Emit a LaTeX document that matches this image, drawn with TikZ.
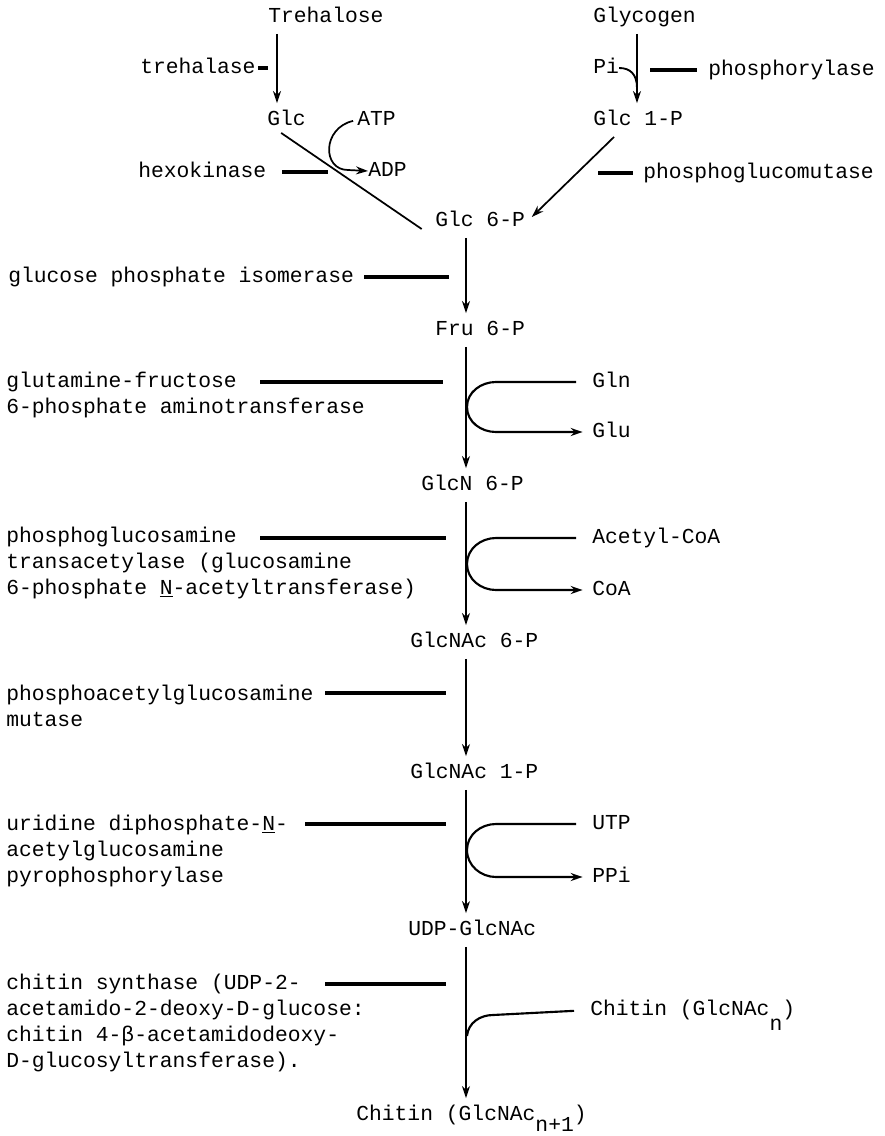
\documentclass[tikz,border=0pt]{standalone}
\usepackage{fontspec}
\setmainfont{Liberation Mono}
\usetikzlibrary{arrows.meta}

\tikzset{
  met/.style={anchor=west, inner xsep=0pt, inner ysep=5.5pt, text height=11pt, text depth=3pt},
  enz/.style={anchor=base west, align=left, inner sep=0pt},
  enzbar/.style={line width=3.5pt},
  side/.style={line width=1.6pt},
  flow/.style={->, line width=1.3pt},
}

\begin{document}
\begin{tikzpicture}[x=0.75pt, y=-0.75pt, font=\fontsize{16pt}{19.3pt}\selectfont,
    >={Stealth[length=9pt,width=6pt]}]
	\useasboundingbox (0,0) rectangle (885,1136);
	
	% sources
	\node[met] (tre) at (268,17) {Trehalose};
	\node[met] (gly) at (593,17) {Glycogen};
	\node[enz] (trehalase) at (140,73) {trehalase};
	\node[met] (pi) at (593,68) {Pi};
	\node[enz] (phos) at (708,75) {phosphorylase};
	\node[met] (glc) at (267,120) {Glc};
	\node[met] (atp) at (357,120) {ATP};
	\node[met] (glc1p) at (593,120) {Glc 1-P};
	\node[enz] (hk) at (138,177) {hexokinase};
	\node[met] (adp) at (368,171) {ADP};
	\node[enz] (pgm) at (643,178) {phosphoglucomutase};
	
	% main pathway (base of a multi-line label = its last line)
	\node[met] (glc6p) at (435,221) {Glc 6-P};
	\node[enz] (gpi) at (8,282) {glucose phosphate isomerase};
	\node[met] (fru6p) at (435,330) {Fru 6-P};
	\node[enz] (gfat) at (6,413) {glutamine-fructose\\6-phosphate aminotransferase};
	\node[met] (gln) at (592,382) {Gln};
	\node[met] (glu) at (592,432) {Glu};
	\node[met] (glcn6p) at (421,485) {GlcN 6-P};
	\node[enz] (gna) at (6,594) {phosphoglucosamine\\transacetylase (glucosamine\\6-phosphate \underline{N}-acetyltransferase)};
	\node[met] (acoa) at (592,538) {Acetyl-CoA};
	\node[met] (coa) at (592,590) {CoA};
	\node[met] (glcnac6p) at (410,642) {GlcNAc 6-P};
	\node[enz] (agm) at (6,726) {phosphoacetylglucosamine\\mutase};
	\node[met] (glcnac1p) at (410,773) {GlcNAc 1-P};
	\node[enz] (uap) at (6,882) {uridine diphosphate-\underline{N}-\\acetylglucosamine\\pyrophosphorylase};
	\node[met] (utp) at (592,824) {UTP};
	\node[met] (ppi) at (592,877) {PPi};
	\node[met] (udp) at (408,930) {UDP-GlcNAc};
	\node[enz] (chs) at (6,1067) {chitin synthase (UDP-2-\\acetamido-2-deoxy-D-glucose:\\chitin 4-β-acetamidodeoxy-\\D-glucosyltransferase).};
	\node[met] (chitinn) at (590,1010) {Chitin (GlcNAc\raisebox{-11pt}{n})};
	\node[met] (chitin) at (356,1115) {Chitin (GlcNAc\raisebox{-8pt}{n+1})};
	
	\coordinate (tx) at (277,0);
	\coordinate (gx) at (637,0);
	\coordinate (ax) at (466,0);
	\coordinate (pijoin) at (637,88);
	
	% top branches
	\draw[flow] (tre.south -| tx) -- (glc.north -| tx);
	\draw[flow] (gly.south -| gx) -- (glc1p.north -| gx);
	\draw[line width=1.4pt] (pi.east) .. controls (630,68) and (637,74) .. (pijoin);
	\draw[line width=1.3pt] ([xshift=-4pt,yshift=3pt]glc.south) -- ([shift={(-10pt,-6pt)}]glc6p.west);
	\draw[flow, shorten <=3pt] (atp.west) .. controls (322,128) and (322,170) .. (348,170) -- (adp.west);
	\draw[flow] ([xshift=-18pt]glc1p.south) -- ([shift={(5pt,3pt)}]glc6p.east);
	
	% trunk
	\foreach \a/\b in {glc6p/fru6p, fru6p/glcn6p, glcn6p/glcnac6p, glcnac6p/glcnac1p, glcnac1p/udp, udp/chitin}
		\draw[flow] (\a.south -| ax) -- (\b.north -| ax);
	
	% co-substrates
	\draw[side, ->, shorten <=12pt, shorten >=7pt] (gln.west) -- (496,382) to[out=180,in=90] (467,407) to[out=-90,in=180] (496,432) -- (glu.west);
	\draw[side, ->, shorten <=12pt, shorten >=7pt] (acoa.west) -- (496,538) to[out=180,in=90] (467,564) to[out=-90,in=180] (496,590) -- (coa.west);
	\draw[side, ->, shorten <=12pt, shorten >=7pt] (utp.west) -- (496,824) to[out=180,in=90] (467,850) to[out=-90,in=180] (496,877) -- (ppi.west);
	\draw[side, shorten <=12pt] (chitinn.west) -- (493,1015) to[out=180,in=85] (467,1036);
	
	% enzyme bars
	\foreach \n/\xa/\xb/\y in {treh/258/268/68, phos/650/697/70, hk/282/328/172, pgm/598/633/173,
		gpi/364/449/277, gfat/260/443/382, gna/260/446/538, agm/325/446/693, uap/305/446/824, chs/325/446/984}
	{
		\coordinate (\n-l) at (\xa,\y);
		\coordinate (\n-r) at (\xb,\y);
		\draw[enzbar] (\n-l) -- (\n-r);
	}
\end{tikzpicture}
\end{document}
